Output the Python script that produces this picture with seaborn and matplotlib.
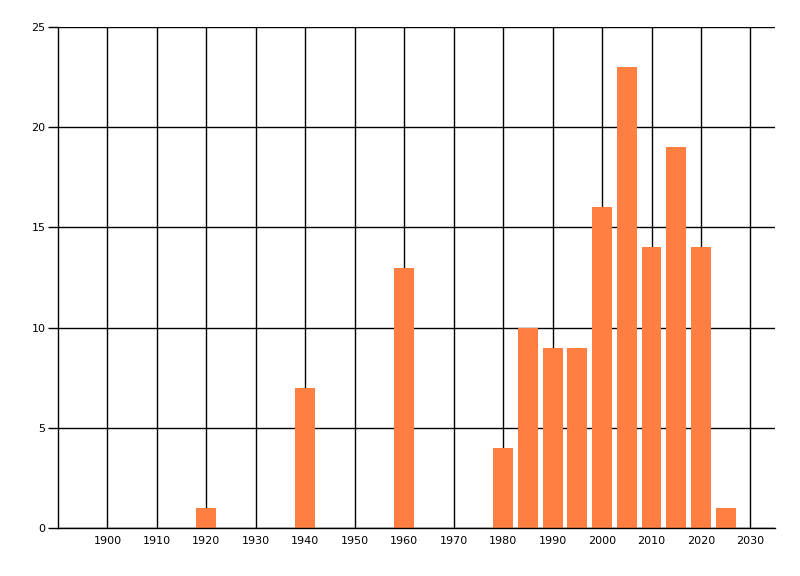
import matplotlib
matplotlib.use('Agg')
import matplotlib.pyplot as plt
import seaborn as sns
import pandas as pd

# values
years = [1920, 1940, 1960, 1980, 1985, 1990, 1995, 2000, 2005, 2010, 2015, 2020, 2025]
counts = [1, 7, 13, 4, 10, 9, 9, 16, 23, 14, 19, 14, 1]
x_ticks = list(range(1900, 2031, 10))
y_ticks = [0, 5, 10, 15, 20, 25]

df = pd.DataFrame({'year': years, 'count': counts})

sns.set_style('ticks')
plt.rcParams['font.family'] = ['DejaVu Sans']

fig = plt.figure(figsize=(8, 5.76), dpi=100)
ax = fig.add_axes([0.0725, 0.0833, 0.8965, 0.8697])

sns.barplot(data=df, x='year', y='count', native_scale=True, width=0.8,
            color='#FF7F42', saturation=1, linewidth=0, ax=ax)

ax.set_xlim(1890, 2035)
ax.set_ylim(0, 25)
ax.set_xticks(x_ticks)
ax.set_yticks(y_ticks)
ax.set_xlabel('')
ax.set_ylabel('')

ax.set_axisbelow(True)
ax.grid(True, color='black', linewidth=1.0)

for s in ['top', 'right']:
    ax.spines[s].set_visible(False)
for s in ['left', 'bottom']:
    ax.spines[s].set_color('black')
    ax.spines[s].set_linewidth(1.0)

ax.tick_params(axis='x', length=0, pad=6, labelsize=8, colors='black')
ax.tick_params(axis='y', left=True, length=7, width=1, pad=2, labelsize=8, colors='black')

fig.savefig('out.png', dpi=100)
